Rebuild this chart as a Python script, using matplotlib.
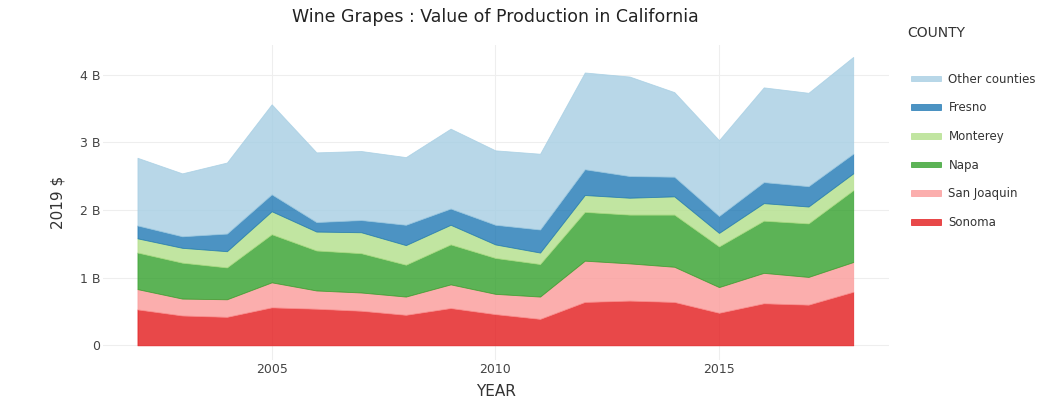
import numpy as np
import matplotlib
matplotlib.use("Agg")
import matplotlib.pyplot as plt
from matplotlib.ticker import FuncFormatter

years = list(range(2002, 2019))

# values in billions of 2019 dollars
sonoma = [0.53, 0.44, 0.42, 0.56, 0.54, 0.51, 0.45, 0.55, 0.46, 0.39,
          0.64, 0.66, 0.64, 0.48, 0.62, 0.60, 0.79]
san_joaquin = [0.30, 0.25, 0.26, 0.37, 0.27, 0.27, 0.27, 0.35, 0.30, 0.33,
               0.61, 0.55, 0.52, 0.38, 0.45, 0.41, 0.44]
napa = [0.54, 0.53, 0.47, 0.71, 0.59, 0.58, 0.47, 0.59, 0.53, 0.48,
        0.72, 0.72, 0.77, 0.60, 0.77, 0.79, 1.06]
monterey = [0.21, 0.22, 0.24, 0.34, 0.28, 0.31, 0.29, 0.29, 0.20, 0.17,
            0.25, 0.25, 0.27, 0.20, 0.26, 0.25, 0.25]
fresno = [0.19, 0.17, 0.26, 0.25, 0.14, 0.18, 0.30, 0.24, 0.29, 0.34,
          0.38, 0.32, 0.29, 0.25, 0.31, 0.30, 0.29]
other = [1.00, 0.93, 1.05, 1.33, 1.03, 1.02, 1.00, 1.18, 1.10, 1.12,
         1.43, 1.47, 1.25, 1.12, 1.40, 1.38, 1.43]

counties = ["Sonoma", "San Joaquin", "Napa", "Monterey", "Fresno", "Other counties"]
series = [sonoma, san_joaquin, napa, monterey, fresno, other]
colors = ["#e31a1c", "#fb9a99", "#33a02c", "#b2df8a", "#1f78b4", "#a6cee3"]

plt.rcParams['font.family'] = ['DejaVu Sans']

fig = plt.figure(figsize=(10.44, 4), dpi=100)
ax = fig.add_axes([103 / 1044, 40 / 400, (889 - 103) / 1044, (360 - 45) / 400])

ys = np.array(series)
polys = ax.stackplot(years, ys, colors=colors, alpha=0.8, linewidth=0.6,
                     edgecolor='face', labels=counties)

ax.set_xlim(2001.23, 2018.8)
ax.set_ylim(-0.217, 4.436)
ax.set_yticks([0, 1, 2, 3, 4])
ax.set_xticks([2005, 2010, 2015])
ax.yaxis.set_major_formatter(FuncFormatter(lambda v, p: "0" if v == 0 else f"{int(v)} B"))
ax.grid(True, color="#eeeeee", linewidth=0.8)
ax.set_axisbelow(True)
for s in ax.spines.values():
    s.set_visible(False)
ax.tick_params(length=0, labelsize=9, colors="#444444")
ax.tick_params(axis='x', pad=2)
ax.tick_params(axis='y', pad=2)

ax.set_xlabel("YEAR", fontsize=11, color="#333333", labelpad=6)
ax.set_ylabel("2019 $", fontsize=11, color="#333333", labelpad=10)
fig.suptitle("Wine Grapes : Value of Production in California", x=495 / 1044,
             y=1 - 17 / 400, va='center', fontsize=12.5, color="#222222")

# legend, top-most layer first like the original
fig.text(907 / 1044, 1 - 33 / 400, "COUNTY", fontsize=10, color="#333333",
         va='center', ha='left')
handles, labels = ax.get_legend_handles_labels()
leg = fig.legend(handles[::-1], labels[::-1], loc='upper left',
                 bbox_to_anchor=(900 / 1044, 1 - 62 / 400), frameon=False,
                 fontsize=8.5, labelspacing=1.33,
                 handlelength=2.6, handleheight=0.35, handletextpad=0.6)
for t in leg.get_texts():
    t.set_color("#333333")

fig.savefig("out.png", dpi=100)
